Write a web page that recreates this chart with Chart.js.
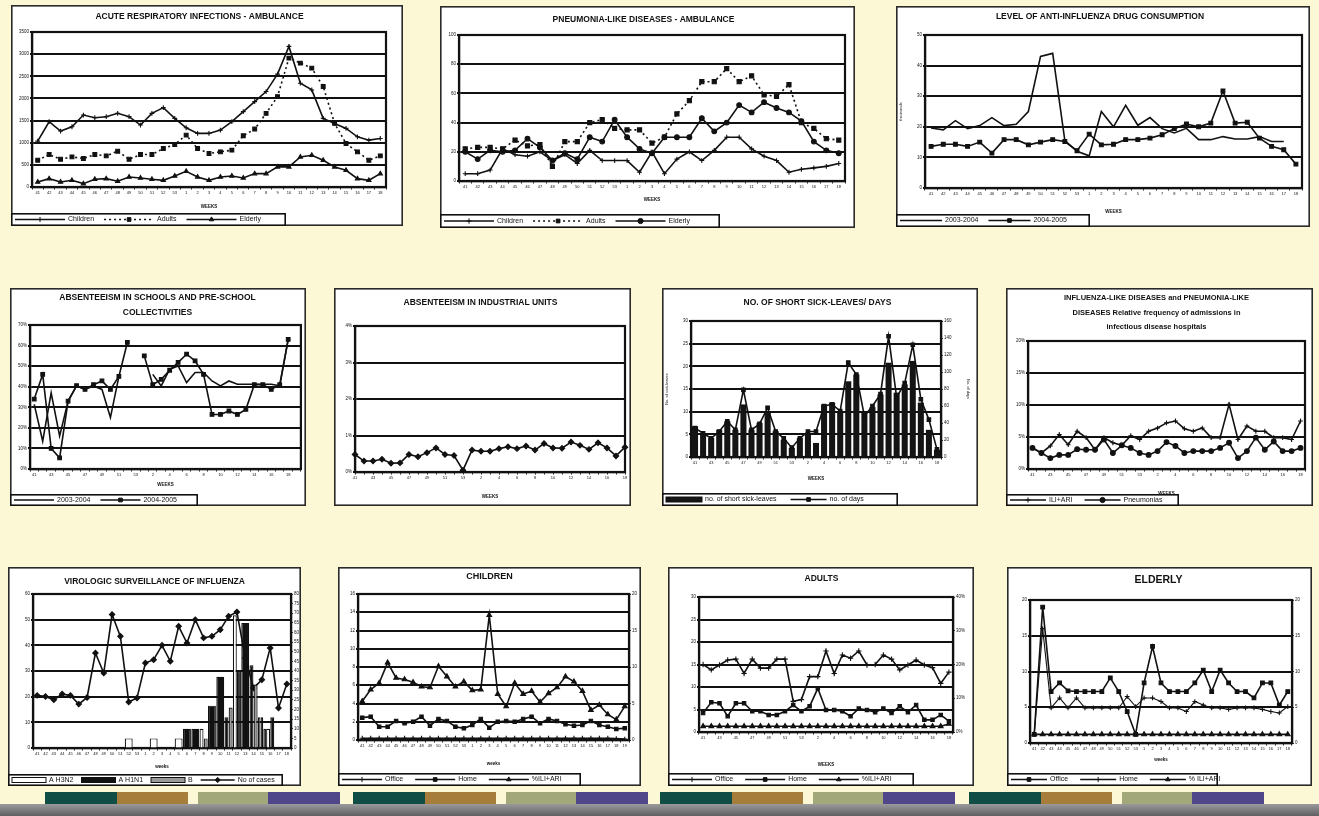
<!DOCTYPE html>
<html>
<head>
<meta charset="utf-8">
<script src="https://cdn.jsdelivr.net/npm/chart.js@4.4.1/dist/chart.umd.min.js"></script>
<style>
  body { margin: 0; width: 1319px; height: 816px; background: #fcf7d4; position: relative; overflow: hidden; }
  .stripe { position: absolute; top: 792px; height: 12px; }
  #band { position: absolute; left: 0; top: 804px; width: 1319px; height: 12px; background: linear-gradient(#9a9a9c, #5f5f62); }
</style>
</head>
<body>
<div id="band"></div>
<script>
const FONT = '"Liberation Sans", Arial, sans-serif';

// week labels
const weeks31 = ['41','42','43','44','45','46','47','48','49','50','51','52','53','1','2','3','4','5','6','7','8','9','10','11','12','13','14','15','16','17','18'];
const weeks32 = ['41','42','43','44','45','46','47','48','49','50','51','52','53','1','2','3','4','5','6','7','8','9','10','11','12','13','14','15','16','17','18','19'];

// acute respiratory infections - ambulance
const ariChildren = [1036,1474,1263,1361,1625,1565,1588,1663,1588,1399,1663,1792,1550,1338,1210,1210,1285,1474,1701,1928,2155,2548,3175,2344,2192,1550,1436,1323,1134,1058,1096];
const ariAdults = [605,733,627,680,643,733,703,809,627,733,733,869,960,1172,869,756,794,832,1157,1308,1663,2041,2911,2797,2684,2268,1436,983,794,605,703];
const ariElderly = [113,189,113,151,76,174,189,129,227,204,174,151,249,355,227,151,227,249,204,302,302,454,454,680,718,605,454,378,189,151,302];

// pneumonia-like diseases - ambulance
const pneuChildren = [5,5,7.5,22,18,17,20,14,18,12,21,14,14,14,6,20,5,15,20,14,21,30,30,22,17,14,6,8,9,10,12];
const pneuAdults = [22,23,23,22,28,24,25,10,27,27,40,42,36,35,35,26,30,46,55,68,68,77,68,72,59,58,66,40,36,29,28];
const pneuElderly = [20,15,21,20,21,29,23,14,19,15,30,27,42,30,22,19,30,30,30,43,34,40,52,47,54,50,47,41,27,21,19];

// anti-influenza drug consumption
const drug0304 = [19.6,19,22,19.4,20.4,23,20.4,20.8,25,43,44,15.5,12,10.5,25,20,27,20.5,23,19.4,18,19.5,15.8,15.8,16.8,16,16,16.8,15.2,15.2,null];
const drug0405 = [13.6,14.3,14.3,13.6,15,11.4,15.8,15.8,14.1,15,15.8,15.2,12.2,17.6,14.1,14.3,15.8,15.8,16.3,17.4,19.4,20.9,20,21.2,31.7,21.2,21.5,16.3,13.6,12.5,7.8];

// absenteeism in schools
const school0304 = [31.4,13.5,37,16,33,40.4,38.7,40.4,38.7,25,45,null,null,null,46,40.4,48.5,50.1,42,46.9,46.9,42.8,40.4,42.8,41.2,41.2,41.2,41.2,41.2,40.4,63,null];
const school0405 = [34,46,10,5.4,33,40.5,38.7,41,42.8,38.7,45,61.5,null,55,41,43.6,48,51.8,55.8,52.6,46,26.5,26.5,28.2,26.5,29,41,41,38.7,41,63,null];

// absenteeism in industrial units
const industry = [0.48,0.3,0.3,0.35,0.24,0.25,0.48,0.42,0.53,0.66,0.48,0.45,0.05,0.6,0.57,0.57,0.64,0.69,0.64,0.71,0.6,0.78,0.66,0.65,0.82,0.73,0.62,0.8,0.66,0.44,0.68];

// short sick-leaves
const sickLeaves = [6.8,5.3,4.2,6,7.9,6,11.6,6,7.5,10,5.7,3.8,2,4.2,5,3.1,11.6,12,9.7,16.7,18.2,9.7,11,13.8,20.8,14.2,16,21.2,12,6,1.6];
const sickDays = [34,28,22,30,42,32,79,32,39,58,30,22,11,22,30,30,60,62,54,111,97,48,60,74,142,70,87,132,68,44,9];

// hospital admissions
const hospILI = [3.3,2.5,3.6,5.4,3.8,5.9,4.9,3,4.9,4.1,3.7,5.2,4.6,5.9,6.4,7.2,7.5,6.3,5.9,6.4,4.9,4.9,10.1,4.6,6.7,5.9,5.9,4.9,4.9,4.6,7.5];
const hospPneu = [3.3,2.5,1.7,2.2,2.2,3.1,3,3,4.6,2.5,3.7,3.3,2.5,2.2,2.8,4.2,3.6,2.5,2.8,2.8,2.8,3.3,4.1,1.7,2.8,4.9,3,4.3,2.8,2.8,3.3];

// virologic surveillance
const viroH3N2 = [null,null,null,null,null,null,null,null,null,null,null,5,null,null,5,null,null,5,null,null,10,null,null,null,69,null,null,16,10,null,null];
const viroH1N1 = [null,null,null,null,null,null,null,null,null,null,null,null,null,null,null,null,null,null,10,10,null,22,37,16,40,65,43,16,16,null,null];
const viroB = [null,null,null,null,null,null,null,null,null,null,null,null,null,null,null,null,null,null,null,null,5,null,null,21,null,null,33,10,null,null,null];
const viroCases = [20.5,20.1,18.8,21,20.5,17.1,19.7,37,29.2,52,43.5,17.9,19.5,33.1,34.4,40,33.8,47.4,40.9,50,42.9,43.5,46.1,51.3,53,35,23.4,26.6,39,15.6,24.9];

// children / adults / elderly
const childOffice = [0.2,0.2,0.2,0.2,0.2,0.2,0.2,0.2,0.2,0.2,0.2,0.2,0.2,0.2,0.2,0.2,0.2,0.2,0.2,0.2,0.2,0.2,0.2,0.2,0.2,0.2,0.2,0.2,0.2,0.2,0.15,0.1];
const childHome = [2.45,2.56,1.46,1.46,2.09,1.83,2.01,2.56,1.57,2.31,2.09,1.46,1.28,1.65,2.31,1.35,2.01,2.09,2.01,2.31,2.56,1.83,2.31,2.09,1.72,1.57,1.65,2.09,1.65,1.46,1.21,1.3];
const childILI = [5.3,6.9,7.8,10.6,8.5,8.3,7.9,7.3,7.2,10.1,8.7,7.3,8,6.8,6.9,17.1,6.3,4.6,7.8,6.3,6.7,5.2,6.4,7.2,8.7,8,6.7,4.1,4.8,3.5,2.8,4.6];

const adultOffice = [15,13.8,14.9,16,16.2,13,16.2,14.2,14.2,16.2,16.2,6.8,7.2,12.3,12.3,18,13,17.1,16.4,18,14.9,15,17.1,16.2,13.8,14.9,16,14.9,14.3,10.8,13.3];
const adultHome = [4.2,6.6,6.4,3.5,6.4,6.4,4.6,4.6,3.8,3.8,4.6,6,4.6,5.7,9.7,4.9,4.9,4.6,3.5,5.2,4.9,4.4,5.2,4.2,5.7,4.4,6,2.7,2.7,3.8,2.4];
const adultILI = [1.7,1.7,1.7,1.7,1.7,1.7,1.7,1.7,1.7,1.7,1.7,1.7,1.7,1.7,1.7,1.7,1.7,1.7,1.7,1.7,1.7,1.7,1.7,1.7,1.7,1.7,1.7,1.7,1.7,1.7,2.4];

const elderOffice = [1.2,19,7.2,8.4,7.3,7.2,7.2,7.2,7.2,9.1,7.2,4.4,1.2,8.4,13.5,8.4,7.2,7.2,7.2,8.4,10.2,7.2,10.2,8.4,7.2,7.2,6.3,8.4,8.4,5.3,7.2];
const elderHome = [1.2,16,4.9,6.3,4.9,6.3,4.9,4.9,4.9,4.9,4.9,6.5,5.1,6.3,6.3,5.8,4.9,4.9,4.4,5.8,5.3,4.9,4.9,4.7,4.9,4.9,4.9,4.7,4.4,4.2,5.1];
const elderILI = [1.2,1.2,1.2,1.2,1.2,1.2,1.2,1.2,1.2,1.2,1.2,1.2,1.2,1.2,1.2,1.2,1.2,1.2,1.2,1.2,1.2,1.2,1.2,1.2,1.2,1.2,1.2,1.2,1.2,1.2,1.2];

// decorative stripes at the bottom
const stripeColors = ['#0f4d45', '#a77d3b', '#a2a87a', '#4f4789'];
const stripeGroups = [45, 353, 660, 969];
stripeGroups.forEach(g => {
  [[0, 72], [72, 143], [153, 223], [223, 295]].forEach((s, i) => {
    const d = document.createElement('div');
    d.className = 'stripe';
    d.style.left = (g + s[0]) + 'px';
    d.style.width = (s[1] - s[0]) + 'px';
    d.style.background = stripeColors[i];
    document.body.appendChild(d);
  });
});

// white panel, plot frame and boxed legend
const panelDeco = {
  id: 'panelDeco',
  beforeDraw(chart) {
    const ctx = chart.ctx;
    ctx.save();
    ctx.fillStyle = '#fff';
    ctx.fillRect(0, 0, chart.width, chart.height);
    ctx.restore();
  },
  beforeDatasetsDraw(chart) {
    const a = chart.chartArea, ctx = chart.ctx;
    ctx.save();
    ctx.strokeStyle = '#111';
    ctx.lineWidth = 2.2;
    ctx.strokeRect(a.left, a.top, a.right - a.left, a.bottom - a.top);
    ctx.restore();
  },
  afterDraw(chart, args, opts) {
    const ctx = chart.ctx, W = chart.width, H = chart.height;
    ctx.save();
    ctx.strokeStyle = '#2a2a2a';
    ctx.lineWidth = 1.6;
    ctx.strokeRect(0.8, 0.8, W - 1.6, H - 1.6);
    const lg = opts.legend;
    if (lg) {
      const y0 = H - lg.h;
      ctx.fillStyle = '#fff';
      ctx.fillRect(0, y0, lg.w, lg.h);
      ctx.strokeStyle = '#111';
      ctx.lineWidth = 1.6;
      ctx.strokeRect(0.8, y0 + 0.8, lg.w - 1.6, lg.h - 1.6);
      ctx.font = '7px ' + FONT;
      ctx.textBaseline = 'middle';
      const cy = y0 + lg.h / 2;
      let x = 4;
      chart.data.datasets.forEach(ds => {
        const isBar = (ds.type || chart.config.type) === 'bar';
        if (isBar) {
          ctx.fillStyle = ds.backgroundColor;
          ctx.fillRect(x, cy - 2.5, lg.sample, 5);
          ctx.strokeStyle = '#111';
          ctx.lineWidth = 1;
          ctx.strokeRect(x, cy - 2.5, lg.sample, 5);
        } else {
          ctx.strokeStyle = '#111';
          ctx.lineWidth = 1.5;
          ctx.setLineDash(ds.borderDash || []);
          ctx.beginPath();
          ctx.moveTo(x, cy);
          ctx.lineTo(x + lg.sample, cy);
          ctx.stroke();
          ctx.setLineDash([]);
          if (ds.pointRadius) {
            ctx.fillStyle = '#111';
            ctx.lineWidth = 1;
            Chart.helpers.drawPoint(ctx, {pointStyle: ds.pointStyle, radius: 2.6, rotation: 0, borderWidth: 1}, x + lg.sample / 2, cy);
          }
        }
        x += lg.sample + 3;
        ctx.fillStyle = '#111';
        ctx.fillText(ds.label, x, cy);
        x += ctx.measureText(ds.label).width + lg.gap;
      });
    }
    ctx.restore();
  }
};
Chart.register(panelDeco);

function line(label, data, style, extra) {
  return Object.assign({
    type: 'line', label: label, data: data,
    borderColor: '#111', backgroundColor: '#111', borderWidth: 1.6,
    pointStyle: style || 'circle', pointRadius: style ? 2.4 : 0,
    pointBorderWidth: 1.1, pointBackgroundColor: '#111', pointBorderColor: '#111',
    tension: 0, spanGaps: false, fill: false
  }, extra || {});
}

function yScale(cfg, width, side) {
  return {
    position: side,
    min: cfg.min, max: cfg.max,
    afterFit: a => { a.width = width; },
    grid: side === 'left' ? {color: '#111', lineWidth: 2, tickLength: 2}
                          : {drawOnChartArea: false, color: '#111', tickLength: 2},
    border: {display: true, color: '#111', width: 2.2},
    ticks: {stepSize: cfg.step, padding: 1, color: '#111', font: {size: 4.5, family: FONT},
            callback: v => cfg.fmt ? cfg.fmt(v) : v},
    title: {display: !!cfg.title, text: cfg.title || '', color: '#111', padding: 0,
            font: {size: 4, family: FONT}}
  };
}

function makePanel(o) {
  const [bx, by, bw, bh] = o.box;
  const L = o.plot[0] - bx, T = o.plot[1] - by, R = o.plot[2] - bx, B = o.plot[3] - by;
  const cv = document.createElement('canvas');
  cv.width = bw; cv.height = bh;
  cv.style.cssText = 'position:absolute;left:' + bx + 'px;top:' + by + 'px;width:' + bw + 'px;height:' + bh + 'px';
  document.body.appendChild(cv);

  const tSize = o.titleSize || 8.5, tLH = o.titleLH || 1.2;
  const lineH = tSize * tLH, n = o.title.length;
  const padT = (o.titleY - by) - n * lineH / 2;
  const tPadB = T - padT - n * lineH;
  const y1w = o.y1 ? o.y1.w : 0;
  const padR = bw - R - y1w;
  const hx = (o.weeksY - by) - B + 4.5 * 1.2 / 2;
  const padB = bh - B - hx;
  const offset = o.offset !== false;
  const skip = o.skip || 1;

  const scales = {
    x: {
      offset: offset,
      afterFit: a => { a.height = hx; },
      grid: {drawOnChartArea: false, drawTicks: true, tickLength: 2.5, color: '#111', lineWidth: 1, offset: offset},
      border: {display: true, color: '#111', width: 2.2},
      ticks: {autoSkip: false, maxRotation: 0, padding: 1, color: '#111', font: {size: 4, family: FONT},
              callback: function (v, i) { return i % skip === 0 ? this.getLabelForValue(v) : ''; }},
      title: {display: true, text: o.xTitle || 'WEEKS', color: '#111', padding: 0,
              font: {size: 4.5, weight: 'bold', family: FONT}}
    },
    y: yScale(o.y, L - 2, 'left')
  };
  if (o.y1) scales.y1 = yScale(o.y1, o.y1.w, 'right');

  new Chart(cv, {
    type: o.type || 'line',
    data: {labels: o.labels, datasets: o.datasets},
    options: {
      responsive: false, animation: false, devicePixelRatio: 1,
      layout: {padding: {left: 2, right: padR, top: padT, bottom: padB}},
      plugins: {
        legend: {display: false},
        tooltip: {enabled: false},
        title: {display: true, text: o.title, color: '#111', padding: {top: 0, bottom: tPadB},
                font: {size: tSize, weight: 'bold', family: FONT, lineHeight: tLH}},
        panelDeco: {legend: o.legend || null}
      },
      scales: scales
    }
  });
}

const pct = v => v + '%';

makePanel({
  box: [11, 5, 392, 221], plot: [32, 32, 386, 187], titleY: 17, weeksY: 207,
  title: ['ACUTE RESPIRATORY INFECTIONS - AMBULANCE'],
  labels: weeks31, y: {min: 0, max: 3500, step: 500},
  legend: {w: 275, h: 13, sample: 50, gap: 10},
  datasets: [
    line('Children', ariChildren, 'cross'),
    line('Adults', ariAdults, 'rect', {borderDash: [2, 3], pointRadius: 2.7}),
    line('Elderly', ariElderly, 'triangle')
  ]
});

makePanel({
  box: [440, 6, 415, 222], plot: [459, 35, 845, 181], titleY: 20, weeksY: 200,
  title: ['PNEUMONIA-LIKE DISEASES - AMBULANCE'],
  labels: weeks31, y: {min: 0, max: 100, step: 20},
  legend: {w: 280, h: 14, sample: 50, gap: 10},
  datasets: [
    line('Children', pneuChildren, 'cross'),
    line('Adults', pneuAdults, 'rect', {borderDash: [2, 3], pointRadius: 2.9}),
    line('Elderly', pneuElderly, 'circle')
  ]
});

makePanel({
  box: [896, 6, 414, 221], plot: [925, 35, 1302, 188], titleY: 17, weeksY: 212,
  title: ['LEVEL OF ANTI-INFLUENZA DRUG CONSUMPTION'],
  labels: weeks31, y: {min: 0, max: 50, step: 10, title: 'thousands'},
  legend: {w: 194, h: 13, sample: 42, gap: 10},
  datasets: [
    line('2003-2004', drug0304, null),
    line('2004-2005', drug0405, 'rect', {pointRadius: 2.7})
  ]
});

makePanel({
  box: [10, 288, 296, 218], plot: [30, 325, 303, 469], titleY: 305, titleLH: 1.7, weeksY: 485,
  title: ['ABSENTEEISM IN SCHOOLS AND PRE-SCHOOL', 'COLLECTIVITIES'],
  labels: weeks32, skip: 2, y: {min: 0, max: 70, step: 10, fmt: pct},
  legend: {w: 188, h: 12, sample: 40, gap: 10},
  datasets: [
    line('2003-2004', school0304, null),
    line('2004-2005', school0405, 'rect', {pointRadius: 2.6})
  ]
});

makePanel({
  box: [334, 288, 297, 218], plot: [355, 326, 625, 472], titleY: 303, weeksY: 497, offset: false,
  title: ['ABSENTEEISM IN INDUSTRIAL UNITS'],
  labels: weeks31, skip: 2, y: {min: 0, max: 4, step: 1, fmt: pct},
  datasets: [
    line('Industrial units', industry, 'rectRot', {pointRadius: 2.7})
  ]
});

makePanel({
  type: 'bar',
  box: [662, 288, 316, 218], plot: [691, 321, 941, 457], titleY: 303, weeksY: 479,
  title: ['NO. OF SHORT SICK-LEAVES/ DAYS'],
  labels: weeks31, skip: 2,
  y: {min: 0, max: 30, step: 5, title: 'No. of sick-leaves'},
  y1: {min: 0, max: 160, step: 20, w: 30, title: 'No. of days'},
  legend: {w: 236, h: 13, sample: 36, gap: 14},
  datasets: [
    {type: 'bar', label: 'no. of short sick-leaves', data: sickLeaves, yAxisID: 'y', order: 1,
     backgroundColor: '#141414', borderWidth: 0, barPercentage: 0.75, categoryPercentage: 1},
    line('no. of days', sickDays, 'rect', {yAxisID: 'y1', order: 0, pointRadius: 2.5})
  ]
});

makePanel({
  box: [1006, 288, 307, 218], plot: [1028, 341, 1305, 469], titleY: 312.5, titleSize: 7.5, titleLH: 1.93, weeksY: 494,
  title: ['INFLUENZA-LIKE DISEASES and PNEUMONIA-LIKE', 'DISEASES Relative frequency of admissions in', 'infectious disease hospitals'],
  labels: weeks31, skip: 2, y: {min: 0, max: 20, step: 5, fmt: pct},
  legend: {w: 173, h: 12, sample: 36, gap: 12},
  datasets: [
    line('ILI+ARI', hospILI, 'cross'),
    line('Pneumonias', hospPneu, 'circle')
  ]
});

makePanel({
  type: 'bar',
  box: [8, 567, 293, 219], plot: [33, 594, 291, 748], titleY: 582, weeksY: 767, xTitle: 'weeks',
  title: ['VIROLOGIC SURVEILLANCE OF INFLUENZA'],
  labels: weeks31, y: {min: 0, max: 60, step: 10},
  y1: {min: 0, max: 80, step: 5, w: 8},
  legend: {w: 275, h: 12, sample: 34, gap: 8},
  datasets: [
    {type: 'bar', label: 'A H3N2', data: viroH3N2, yAxisID: 'y1', order: 0, backgroundColor: '#ffffff',
     borderColor: '#111', borderWidth: 1.2, skipNull: true, barPercentage: 0.95, categoryPercentage: 1},
    {type: 'bar', label: 'A H1N1', data: viroH1N1, yAxisID: 'y1', order: 0, backgroundColor: '#111',
     borderColor: '#111', borderWidth: 1.2, skipNull: true, barPercentage: 0.95, categoryPercentage: 1},
    {type: 'bar', label: 'B', data: viroB, yAxisID: 'y1', order: 0, backgroundColor: '#9a9a9a',
     borderColor: '#111', borderWidth: 1.2, skipNull: true, barPercentage: 0.95, categoryPercentage: 1},
    line('No of cases', viroCases, 'rectRot', {yAxisID: 'y', order: 1, pointRadius: 2.7})
  ]
});

makePanel({
  box: [338, 567, 303, 219], plot: [358, 594, 629, 740], titleY: 577, titleSize: 9, weeksY: 764, xTitle: 'weeks',
  title: ['CHILDREN'],
  labels: weeks32, y: {min: 0, max: 16, step: 2},
  y1: {min: 0, max: 20, step: 5, w: 10},
  legend: {w: 243, h: 13, sample: 40, gap: 12},
  datasets: [
    line('Office', childOffice, 'cross'),
    line('Home', childHome, 'rect'),
    line('%ILI+ARI', childILI, 'triangle', {yAxisID: 'y1', pointRadius: 2.7})
  ]
});

makePanel({
  box: [668, 567, 306, 219], plot: [699, 597, 953, 732], titleY: 579, titleSize: 8.5, weeksY: 765,
  title: ['ADULTS'],
  labels: weeks31, skip: 2, y: {min: 0, max: 30, step: 5},
  y1: {min: 0, max: 40, step: 10, w: 20, fmt: pct},
  legend: {w: 246, h: 13, sample: 40, gap: 12},
  datasets: [
    line('Office', adultOffice, 'cross', {pointRadius: 2.7}),
    line('Home', adultHome, 'rect'),
    line('%ILI+ARI', adultILI, 'triangle', {yAxisID: 'y1', pointRadius: 2.7})
  ]
});

makePanel({
  box: [1007, 567, 305, 219], plot: [1030, 600, 1292, 743], titleY: 580, titleSize: 10.5, weeksY: 760, xTitle: 'weeks',
  title: ['ELDERLY'],
  labels: weeks31, y: {min: 0, max: 20, step: 5},
  y1: {min: 0, max: 20, step: 5, w: 16},
  legend: {w: 211, h: 13, sample: 36, gap: 12},
  datasets: [
    line('Office', elderOffice, 'rect', {pointRadius: 2.6}),
    line('Home', elderHome, 'cross', {borderWidth: 1.1}),
    line('% ILI+ARI', elderILI, 'triangle', {yAxisID: 'y1', pointRadius: 2.7})
  ]
});
</script>
</body>
</html>
